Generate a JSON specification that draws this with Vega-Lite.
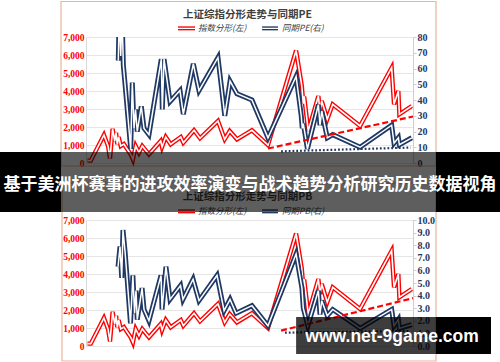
{
  "$schema": "https://vega.github.io/schema/vega-lite/v6.json",
  "background": "white",
  "padding": 0,
  "bounds": "flush",
  "spacing": 57,
  "config": {"view": {"stroke": null}},
  "datasets": {
    "idx": [
      {"d":"1990-11-15","v":130},{"d":"1991-02-20","v":130},{"d":"1992-03-16","v":1556},{"d":"1992-07-15","v":944},
      {"d":"1992-09-12","v":250},{"d":"1992-11-28","v":1900},{"d":"1993-01-30","v":1222},{"d":"1993-03-10","v":1683},
      {"d":"1993-04-16","v":1037},{"d":"1993-05-26","v":1444},{"d":"1993-07-27","v":944},{"d":"1993-10-30","v":1055},
      {"d":"1994-02-06","v":761},{"d":"1994-05-18","v":483},{"d":"1994-07-22","v":200},{"d":"1994-10-12","v":944},
      {"d":"1995-01-18","v":572},{"d":"1995-04-26","v":944},{"d":"1995-11-10","v":483},{"d":"1996-10-23","v":1222},
      {"d":"1996-12-02","v":889},{"d":"1997-03-22","v":1444},{"d":"1997-08-15","v":1037},{"d":"1998-06-10","v":1444},
      {"d":"1998-08-25","v":1128},{"d":"1999-07-08","v":1817},{"d":"2000-01-01","v":1372},{"d":"2001-06-17","v":2333},
      {"d":"2002-01-01","v":1317},{"d":"2002-05-30","v":1778},{"d":"2003-01-01","v":1317},{"d":"2004-03-20","v":1817},
      {"d":"2005-07-08","v":1000},{"d":"2007-10-20","v":6250},{"d":"2008-04-05","v":4300},{"d":"2008-05-20","v":3300},
      {"d":"2008-06-15","v":3700},{"d":"2008-10-15","v":1780},{"d":"2009-08-10","v":3722},{"d":"2009-09-27","v":2889},
      {"d":"2009-11-18","v":3444},{"d":"2010-05-01","v":2428},{"d":"2010-10-09","v":3261},{"d":"2012-12-28","v":2056},
      {"d":"2015-07-22","v":5295},{"d":"2015-10-01","v":3261},{"d":"2016-02-06","v":4000},{"d":"2016-03-07","v":2706},
      {"d":"2017-03-10","v":3167}
    ],
    "pe": [
      {"d":"1993-05-15","v":65},{"d":"1993-06-13","v":95},{"d":"1993-07-27","v":68},{"d":"1993-09-02","v":95},
      {"d":"1993-10-12","v":62},{"d":"1993-12-02","v":50},{"d":"1994-05-18","v":9},{"d":"1994-07-05","v":51},
      {"d":"1994-08-25","v":22},{"d":"1994-10-08","v":34},{"d":"1994-11-28","v":20},{"d":"1995-03-28","v":36},
      {"d":"1995-06-17","v":22},{"d":"1995-11-10","v":18},{"d":"1996-11-10","v":66},{"d":"1996-12-10","v":34},
      {"d":"1997-01-30","v":66},{"d":"1997-07-27","v":39},{"d":"1998-05-18","v":46},{"d":"1998-08-25","v":31},
      {"d":"1999-06-17","v":63},{"d":"1999-12-02","v":46},{"d":"2001-06-17","v":67},{"d":"2002-01-05","v":30},
      {"d":"2002-06-10","v":52},{"d":"2003-01-01","v":44},{"d":"2004-03-20","v":40},{"d":"2005-07-08","v":16},
      {"d":"2007-10-20","v":55},{"d":"2008-03-20","v":30},{"d":"2008-04-20","v":22},{"d":"2008-05-20","v":25},
      {"d":"2008-09-20","v":9},{"d":"2009-08-10","v":37},{"d":"2009-09-27","v":24},{"d":"2009-11-18","v":33},
      {"d":"2010-05-01","v":16},{"d":"2010-10-09","v":18},{"d":"2012-12-28","v":10},{"d":"2015-07-22","v":24},
      {"d":"2015-10-01","v":12.6},{"d":"2016-02-06","v":16},{"d":"2016-03-07","v":11.6},{"d":"2017-03-10","v":16}
    ],
    "pb": [
      {"d":"1993-05-08","v":6.3},{"d":"1993-07-05","v":7.9},{"d":"1993-08-25","v":5.4},{"d":"1993-10-01","v":9.2},
      {"d":"1993-12-02","v":7.5},{"d":"1994-05-12","v":1.8},{"d":"1994-07-22","v":5.6},{"d":"1994-09-10","v":2.6},
      {"d":"1994-10-22","v":4.4},{"d":"1994-11-28","v":2.1},{"d":"1995-04-20","v":4.6},{"d":"1995-06-17","v":2.9},
      {"d":"1995-11-10","v":2.0},{"d":"1996-11-02","v":5.6},{"d":"1996-12-02","v":2.9},{"d":"1997-03-28","v":6.3},
      {"d":"1997-07-27","v":3.7},{"d":"1998-06-03","v":4.8},{"d":"1998-08-15","v":3.7},{"d":"1999-06-10","v":5.3},
      {"d":"1999-12-02","v":3.6},{"d":"2001-05-20","v":5.6},{"d":"2001-12-15","v":2.8},{"d":"2002-06-10","v":3.7},
      {"d":"2002-12-05","v":2.6},{"d":"2004-03-20","v":3.2},{"d":"2005-07-08","v":1.6},{"d":"2007-10-20","v":7.3},
      {"d":"2008-04-10","v":4.6},{"d":"2008-05-20","v":3.0},{"d":"2008-10-01","v":1.6},{"d":"2009-08-10","v":4.4},
      {"d":"2009-09-27","v":2.5},{"d":"2009-11-18","v":3.6},{"d":"2010-05-01","v":2.4},{"d":"2010-10-09","v":2.9},
      {"d":"2012-12-28","v":1.4},{"d":"2015-07-22","v":2.9},{"d":"2015-10-01","v":1.6},{"d":"2016-02-06","v":2.1},
      {"d":"2016-03-07","v":1.4},{"d":"2017-03-10","v":1.7}
    ],
    "peTrend": [{"d":"2005-07-08","v":9.2},{"d":"2017-04-15","v":29.5}],
    "peFloor": [{"d":"2006-08-01","v":7.4},{"d":"2017-02-01","v":9.8}],
    "pbTrend": [{"d":"2006-07-30","v":1.22},{"d":"2017-04-15","v":3.8}],
    "pbFloor": [{"d":"2006-11-25","v":1.06},{"d":"2017-01-15","v":1.19}],
    "frameTop": [{"d":"1988-09-20","d2":"2019-02-26","v":8972,"v2":-167}],
    "frameBot": [{"d":"1988-10-20","d2":"2019-02-26","v":9056,"v2":-833}],
    "titleTop": [{"d":"2003-11-10","v":8222,"t":"上证综指分形走势与同期PE"}],
    "titleBot": [{"d":"2003-11-10","v":8278,"t":"上证综指分形走势与同期PB"}],
    "legRed": [{"d":"1998-03-20","v":7480},{"d":"1999-08-07","v":7480}],
    "legBlue": [{"d":"2005-01-15","v":7480},{"d":"2006-04-30","v":7480}],
    "legTextTop": [{"d":"1999-11-03","v":7480,"t":"指数分形(左)"},{"d":"2006-08-28","v":7480,"t":"同期PE(右)"}],
    "legTextBot": [{"d":"1999-11-03","v":7480,"t":"指数分形(左)"},{"d":"2006-08-28","v":7480,"t":"同期PB(右)"}],
    "bannerSolid": [{"d":"1983-10-09","d2":"1988-09-20","v":10778,"v2":7444},{"d":"2019-02-26","d2":"2024-05-07","v":10778,"v2":7444}],
    "bannerSemi": [{"d":"1988-09-20","d2":"2019-02-26","v":10778,"v2":7444}],
    "bannerText": [{"d":"2004-01-22","v":8944,"t":"基于美洲杯赛事的进攻效率演变与战术趋势分析研究历史数据视角"}],
    "wmSolid": [{"d":"2019-02-26","d2":"2023-08-14","v":1611,"v2":-444}],
    "wmSemi": [{"d":"2007-10-20","d2":"2019-02-26","v":1611,"v2":-444}],
    "wmText": [{"d":"2015-08-03","v":500,"t":"www.net-9game.com"}]
  },
  "vconcat": [
    {
      "width": 327, "height": 126,
      "resolve": {"scale": {"y": "independent"}},
      "layer": [
        {
          "encoding": {
            "x": {"field":"d","type":"temporal","scale":{"type":"utc","domain":[{"year":1990,"month":10,"date":1,"utc":true},{"year":2017,"month":4,"date":15,"utc":true}],"nice":false},
              "axis":{"values":[{"year":1990,"month":12,"date":1,"utc":true},{"year":1993,"month":12,"date":1,"utc":true},{"year":1996,"month":12,"date":1,"utc":true},{"year":1999,"month":12,"date":1,"utc":true},{"year":2002,"month":12,"date":1,"utc":true},{"year":2005,"month":12,"date":1,"utc":true},{"year":2008,"month":12,"date":1,"utc":true},{"year":2011,"month":12,"date":1,"utc":true},{"year":2014,"month":12,"date":1,"utc":true}],
                "format":"%Y-%m","formatType":"utc","title":null,"grid":true,"gridColor":"#e6e6e6","domain":false,"ticks":false,"labelFont":"Liberation Serif","labelFontWeight":"bold","labelFontSize":8.5,"labelColor":"#000000","labelPadding":5,"labelOverlap":false}},
            "y": {"field":"v","type":"quantitative","scale":{"domain":[0,7000],"nice":false,"zero":false},
              "axis":{"values":[0,1000,2000,3000,4000,5000,6000,7000],"format":",.0f","formatType":"number","title":null,"grid":true,"gridColor":"#e6e6e6","domain":true,"domainColor":"#d9d9d9","ticks":false,"labelColor":"#ff0000","labelFont":"Liberation Serif","labelFontWeight":"bold","labelFontSize":9.5,"labelPadding":2}}
          },
          "layer": [
            {"data":{"name":"frameTop"},"mark":{"type":"rect","filled":false,"stroke":"#e9b59b","strokeWidth":1.2},"encoding":{"x2":{"field":"d2"},"y2":{"field":"v2"}}},
            {"data":{"name":"idx"},"mark":{"type":"line","color":"#ff0000","strokeWidth":4.4}},
            {"data":{"name":"idx"},"mark":{"type":"line","color":"#ffffff","strokeWidth":1.6}},
            {"data":{"name":"titleTop"},"mark":{"type":"text","font":"Noto Sans CJK SC","fontWeight":"bold","fontSize":10.5,"color":"#404040","align":"center","baseline":"middle"},"encoding":{"text":{"field":"t"}}},
            {"data":{"name":"legRed"},"mark":{"type":"line","color":"#ff0000","strokeWidth":4}},
            {"data":{"name":"legRed"},"mark":{"type":"line","color":"#ffffff","strokeWidth":1.3}},
            {"data":{"name":"legBlue"},"mark":{"type":"line","color":"#1f3864","strokeWidth":4}},
            {"data":{"name":"legBlue"},"mark":{"type":"line","color":"#ffffff","strokeWidth":1.3}},
            {"data":{"name":"legTextTop"},"mark":{"type":"text","font":"Noto Sans CJK SC","fontStyle":"italic","fontSize":8.5,"color":"#404040","align":"left","baseline":"middle"},"encoding":{"text":{"field":"t"}}}
          ]
        },
        {
          "encoding": {
            "x": {"field":"d","type":"temporal","scale":{"type":"utc","domain":[{"year":1990,"month":10,"date":1,"utc":true},{"year":2017,"month":4,"date":15,"utc":true}],"nice":false},"axis":null},
            "y": {"field":"v","type":"quantitative","scale":{"domain":[0,80],"nice":false,"zero":false},
              "axis":{"orient":"right","values":[0,10,20,30,40,50,60,70,80],"format":".0f","formatType":"number","title":null,"grid":false,"domain":true,"domainColor":"#cfcfcf","ticks":true,"tickColor":"#cfcfcf","tickSize":3,"labelColor":"#1f3864","labelFont":"Liberation Serif","labelFontWeight":"bold","labelFontSize":10,"labelPadding":1}}
          },
          "layer": [
            {"data":{"name":"pe"},"mark":{"type":"line","color":"#1f3864","strokeWidth":5,"clip":true}},
            {"data":{"name":"pe"},"mark":{"type":"line","color":"#ffffff","strokeWidth":1.5,"clip":true}},
            {"data":{"name":"peTrend"},"mark":{"type":"line","color":"#ff0000","strokeWidth":2.2,"strokeDash":[6,3]}},
            {"data":{"name":"peFloor"},"mark":{"type":"line","color":"#1f3864","strokeWidth":2.2,"strokeDash":[1.8,2]}}
          ]
        }
      ]
    },
    {
      "width": 327, "height": 126,
      "resolve": {"scale": {"y": "independent"}},
      "layer": [
        {
          "encoding": {
            "x": {"field":"d","type":"temporal","scale":{"type":"utc","domain":[{"year":1990,"month":10,"date":1,"utc":true},{"year":2017,"month":4,"date":15,"utc":true}],"nice":false},
              "axis":{"values":[{"year":1990,"month":12,"date":1,"utc":true},{"year":1993,"month":12,"date":1,"utc":true},{"year":1996,"month":12,"date":1,"utc":true},{"year":1999,"month":12,"date":1,"utc":true},{"year":2002,"month":12,"date":1,"utc":true},{"year":2005,"month":12,"date":1,"utc":true},{"year":2008,"month":12,"date":1,"utc":true},{"year":2011,"month":12,"date":1,"utc":true},{"year":2014,"month":12,"date":1,"utc":true}],
                "format":"%Y-%m","formatType":"utc","title":null,"grid":true,"gridColor":"#e6e6e6","domain":false,"ticks":false,"labelFont":"Liberation Serif","labelFontWeight":"bold","labelFontSize":8.5,"labelColor":"#000000","labelPadding":5,"labelOverlap":false}},
            "y": {"field":"v","type":"quantitative","scale":{"domain":[0,7000],"nice":false,"zero":false},
              "axis":{"values":[0,1000,2000,3000,4000,5000,6000,7000],"format":",.0f","formatType":"number","title":null,"grid":true,"gridColor":"#e6e6e6","domain":true,"domainColor":"#d9d9d9","ticks":false,"labelColor":"#ff0000","labelFont":"Liberation Serif","labelFontWeight":"bold","labelFontSize":9.5,"labelPadding":2}}
          },
          "layer": [
            {"data":{"name":"frameBot"},"mark":{"type":"rect","filled":false,"stroke":"#e9b59b","strokeWidth":1.2},"encoding":{"x2":{"field":"d2"},"y2":{"field":"v2"}}},
            {"data":{"name":"idx"},"mark":{"type":"line","color":"#ff0000","strokeWidth":4.4}},
            {"data":{"name":"idx"},"mark":{"type":"line","color":"#ffffff","strokeWidth":1.6}},
            {"data":{"name":"titleBot"},"mark":{"type":"text","font":"Noto Sans CJK SC","fontWeight":"bold","fontSize":10.5,"color":"#404040","align":"center","baseline":"middle"},"encoding":{"text":{"field":"t"}}},
            {"data":{"name":"legRed"},"mark":{"type":"line","color":"#ff0000","strokeWidth":4}},
            {"data":{"name":"legRed"},"mark":{"type":"line","color":"#ffffff","strokeWidth":1.3}},
            {"data":{"name":"legBlue"},"mark":{"type":"line","color":"#1f3864","strokeWidth":4}},
            {"data":{"name":"legBlue"},"mark":{"type":"line","color":"#ffffff","strokeWidth":1.3}},
            {"data":{"name":"legTextBot"},"mark":{"type":"text","font":"Noto Sans CJK SC","fontStyle":"italic","fontSize":8.5,"color":"#404040","align":"left","baseline":"middle"},"encoding":{"text":{"field":"t"}}}
          ]
        },
        {
          "encoding": {
            "x": {"field":"d","type":"temporal","scale":{"type":"utc","domain":[{"year":1990,"month":10,"date":1,"utc":true},{"year":2017,"month":4,"date":15,"utc":true}],"nice":false},"axis":null},
            "y": {"field":"v","type":"quantitative","scale":{"domain":[0,10],"nice":false,"zero":false},
              "axis":{"orient":"right","values":[0,1,2,3,4,5,6,7,8,9,10],"format":".1f","formatType":"number","title":null,"grid":false,"domain":true,"domainColor":"#cfcfcf","ticks":true,"tickColor":"#cfcfcf","tickSize":3,"labelColor":"#1f3864","labelFont":"Liberation Serif","labelFontWeight":"bold","labelFontSize":10,"labelPadding":1}}
          },
          "layer": [
            {"data":{"name":"pb"},"mark":{"type":"line","color":"#1f3864","strokeWidth":5,"clip":true}},
            {"data":{"name":"pb"},"mark":{"type":"line","color":"#ffffff","strokeWidth":1.5,"clip":true}},
            {"data":{"name":"pbTrend"},"mark":{"type":"line","color":"#ff0000","strokeWidth":2.2,"strokeDash":[6,3]}},
            {"data":{"name":"pbFloor"},"mark":{"type":"line","color":"#1f3864","strokeWidth":2.2,"strokeDash":[1.8,2]}}
          ]
        },
        {
          "encoding": {
            "x": {"field":"d","type":"temporal","scale":{"type":"utc","domain":[{"year":1990,"month":10,"date":1,"utc":true},{"year":2017,"month":4,"date":15,"utc":true}],"nice":false},"axis":null},
            "y": {"field":"v","type":"quantitative","scale":{"domain":[0,7000],"nice":false,"zero":false},"axis":null}
          },
          "layer": [
            {"data":{"name":"bannerSolid"},"mark":{"type":"rect","color":"#000000","opacity":1},"encoding":{"x2":{"field":"d2"},"y2":{"field":"v2"}}},
            {"data":{"name":"bannerSemi"},"mark":{"type":"rect","color":"#000000","opacity":0.63},"encoding":{"x2":{"field":"d2"},"y2":{"field":"v2"}}},
            {"data":{"name":"bannerText"},"mark":{"type":"text","font":"Noto Sans CJK SC","fontWeight":"bold","fontSize":17,"color":"#ffffff","align":"center","baseline":"middle"},"encoding":{"text":{"field":"t"}}},
            {"data":{"name":"wmSolid"},"mark":{"type":"rect","color":"#000000","opacity":1},"encoding":{"x2":{"field":"d2"},"y2":{"field":"v2"}}},
            {"data":{"name":"wmSemi"},"mark":{"type":"rect","color":"#000000","opacity":0.76},"encoding":{"x2":{"field":"d2"},"y2":{"field":"v2"}}},
            {"data":{"name":"wmText"},"mark":{"type":"text","font":"Liberation Sans","fontWeight":"bold","fontSize":17.5,"color":"#ffffff","align":"center","baseline":"middle"},"encoding":{"text":{"field":"t"}}}
          ]
        }
      ]
    }
  ]
}
